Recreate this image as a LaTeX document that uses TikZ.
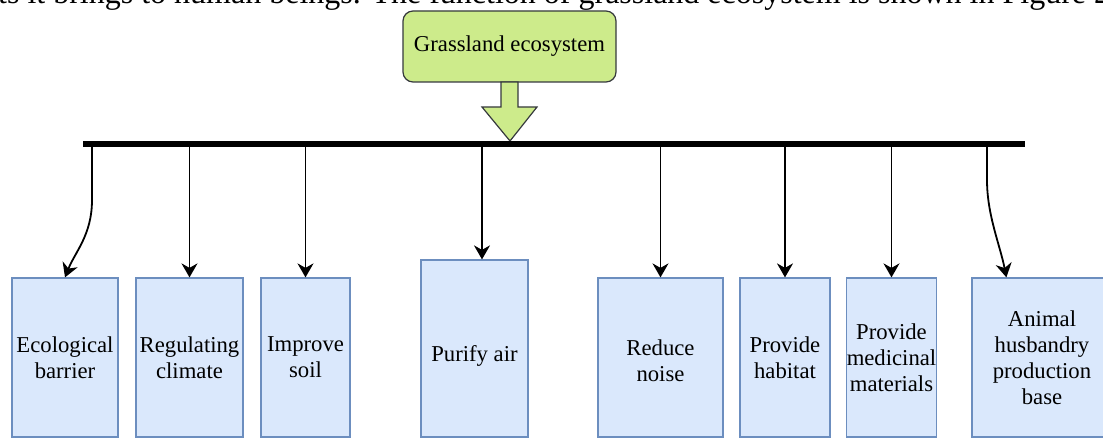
\documentclass[tikz,border=0pt]{standalone}
\usepackage{fontspec}
\setmainfont{Liberation Serif}
\usetikzlibrary{arrows.meta,calc}
\definecolor{gfill}{HTML}{CDEB8B}
\definecolor{gline}{HTML}{36393D}
\definecolor{bfill}{HTML}{DAE8FC}
\definecolor{bline}{HTML}{6C8EBF}
\tikzset{
  topbox/.style={draw=gline,fill=gfill,line width=1.2pt,rounded corners=10pt,
    minimum width=213pt,minimum height=71pt,inner sep=0pt,
    font=\fontsize{22.7}{26}\selectfont},
  funcbox/.style={draw=bline,fill=bfill,line width=1.2pt,inner sep=0pt,align=center,
    minimum height=159pt,font=\fontsize{22.7}{26}\selectfont},
  blockarrow/.style={draw=gline,fill=gfill,line width=1.2pt,line join=miter},
  bus/.style={line width=6pt},
  conn/.style={line width=1.8pt,-{Stealth[length=14pt,width=16pt,inset=4.5pt]}},
}
\begin{document}
\begin{tikzpicture}[x=1pt,y=-1pt]
\useasboundingbox (0,0) rectangle (1103,438);
\clip (0,0) rectangle (1103,438);

% cut-off line of running text above the figure
\node[anchor=base west,inner sep=0pt,font=\fontsize{32}{36}\selectfont] (para) at (-2,4)
  {ts it brings to human beings. The function of grassland ecosystem is shown in Figure 2};

% top node
\node[topbox] (g) at (509.5,46.5) {Grassland ecosystem};

% block arrow
\draw[blockarrow] (501,82) -- (518,82) -- (518,107) -- (537,107) -- (510,141)
  -- (482,107) -- (501,107) -- cycle;

% bus bar
\coordinate (bl) at (83,144);
\coordinate (br) at (1025,144);
\draw[bus] (bl) -- (br);

% function boxes
\node[funcbox,minimum width=106pt] (b1) at (65,357.5) {Ecological\\barrier};
\node[funcbox,minimum width=107pt] (b2) at (189.5,357.5) {Regulating\\climate};
\node[funcbox,minimum width=89pt] (b3) at (305.5,357.5) {Improve\\soil};
\node[funcbox,minimum width=107pt,minimum height=177pt] (b4) at (474.5,348.5)
  {\raisebox{-7pt}[\height][\depth]{Purify air}};
\node[funcbox,minimum width=125pt] (b5) at (660.5,357.5)
  {\raisebox{-6pt}[\height][\depth]{\begin{tabular}{@{}c@{}}Reduce\\noise\end{tabular}}};
\node[funcbox,minimum width=90pt] (b6) at (785,357.5) {Provide\\habitat};
\node[funcbox,minimum width=89pt] (b7) at (891.5,357.5) {Provide\\medicinal\\materials};
\node[funcbox,minimum width=140pt] (b8) at (1042,357.5) {Animal\\husbandry\\production\\base};

% connector start points on the bar
\coordinate (s1) at (92,144);
\coordinate (s2) at (189.5,144);
\coordinate (s3) at (305.5,144);
\coordinate (s4) at (482,144);
\coordinate (s5) at (660.5,144);
\coordinate (s6) at (785,144);
\coordinate (s7) at (891.5,144);
\coordinate (s8) at (987,144);

% connectors
\draw[conn] (s1) -- (92,200) .. controls (92,235) and (75,252) .. (b1.north);
\draw[conn] (s2) -- (b2.north);
\draw[conn] (s3) -- (b3.north);
\draw[conn] (s4) -- (s4 |- b4.north);
\draw[conn] (s5) -- (b5.north);
\draw[conn] (s6) -- (b6.north);
\draw[conn] (s7) -- (b7.north);
\draw[conn] (s8) -- (987,180) .. controls (987,215) and (1000,245) .. ($(b8.north west)+(35,0)$);
\end{tikzpicture}
\end{document}
